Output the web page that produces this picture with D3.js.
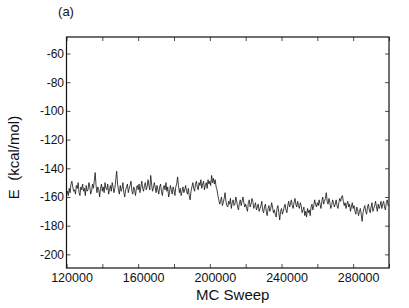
<!DOCTYPE html>
<html>
<head>
<meta charset="utf-8">
<script src="https://cdn.jsdelivr.net/npm/d3@7"></script>
<style>
  body { margin: 0; background: #fff; }
  svg text { font-family: "Liberation Sans", Arial, Helvetica, sans-serif; fill: #111; }
</style>
</head>
<body>
<svg id="chart"></svg>
<script>
// MC sweeps start at 120000, one reading every 500 sweeps
const sweepStart = 120000;
const sweepStep = 500;
const energy = [
  -158, -156, -159, -154, -157, -151, -149, -153, -156, -155, -158, -152, -154, -150, -157, -159, -153, -155, -151, -156,
  -154, -159, -152, -156, -155, -150, -153, -158, -156, -151, -154, -149, -143, -152, -157, -153, -155, -160, -154, -151,
  -156, -153, -157, -150, -154, -155, -151, -158, -155, -152, -156, -150, -153, -157, -154, -148, -142, -151, -155, -158,
  -152, -156, -154, -150, -157, -160, -155, -153, -151, -157, -154, -152, -149, -156, -158, -153, -155, -159, -154, -152,
  -155, -151, -157, -153, -149, -154, -156, -152, -150, -155, -153, -148, -152, -155, -145, -151, -156, -154, -150, -153,
  -157, -152, -155, -158, -153, -151, -156, -159, -154, -152, -155, -150, -156, -153, -160, -157, -152, -155, -158, -153,
  -155, -159, -153, -151, -146, -152, -157, -154, -159, -156, -153, -157, -155, -152, -156, -158, -154, -159, -162, -156,
  -153, -150, -154, -156, -151, -149, -153, -155, -150, -152, -148, -154, -151, -149, -155, -152, -150, -154, -148, -151,
  -149, -152, -145, -150, -147, -151, -148, -153, -155, -159, -162, -165, -163, -160, -166, -164, -161, -157, -163, -166,
  -167, -163, -165, -161, -168, -164, -162, -166, -165, -160, -163, -167, -169, -164, -162, -166, -163, -160, -164, -167,
  -165, -168, -170, -164, -162, -167, -165, -161, -163, -168, -166, -164, -169, -167, -165, -170, -168, -166, -163, -169,
  -171, -167, -165, -170, -173, -168, -166, -170, -168, -164, -167, -171, -169, -172, -174, -168, -166, -171, -176, -170,
  -168, -172, -170, -167, -165, -169, -171, -166, -163, -167, -165, -162, -166, -168, -164, -161, -165, -167, -163, -166,
  -168, -164, -166, -171, -169, -167, -173, -170, -174, -168, -171, -169, -173, -167, -165, -169, -166, -162, -165, -167,
  -164, -166, -162, -165, -168, -163, -160, -165, -163, -161, -157, -163, -165, -161, -164, -168, -166, -162, -164, -167,
  -165, -162, -166, -168, -164, -161, -163, -160, -159, -163, -166, -164, -168, -165, -163, -167, -165, -170, -167, -164,
  -168, -166, -170, -172, -167, -169, -173, -170, -168, -172, -177, -171, -168, -166, -170, -172, -167, -165, -169, -171,
  -167, -164, -170, -168, -166, -163, -167, -170, -165, -168, -166, -163, -168, -165, -163, -167, -169, -164, -162, -166,
  -166
];
const xTicks = [120000, 140000, 160000, 180000, 200000, 220000, 240000, 260000, 280000, 300000];
const xTickLabels = [120000, 160000, 200000, 240000, 280000];
const yTicks = [-60, -80, -100, -120, -140, -160, -180, -200];

const W = 409, H = 308;
const margin = {top: 37, right: 20, bottom: 40, left: 66.5};
const width = W - margin.left - margin.right,
      height = H - margin.top - margin.bottom;

const svg = d3.select("#chart").attr("width", W).attr("height", H);
const g = svg.append("g").attr("transform", "translate(" + margin.left + "," + margin.top + ")");

const x = d3.scaleLinear().domain([120000, 300000]).range([0, width]);
const y = d3.scaleLinear().domain([-209.5, -48.5]).range([height, 0]);

const data = energy.map((e, i) => ({sweep: sweepStart + i * sweepStep, e: e}));

// trace
g.append("path")
  .datum(data)
  .attr("fill", "none")
  .attr("stroke", "#111")
  .attr("stroke-width", 0.8)
  .attr("d", d3.line().x(d => x(d.sweep)).y(d => y(d.e)));

// axes, ticks point inward
const tickLen = 4;
const fmt = d => xTickLabels.includes(d) ? d : "";

const xb = g.append("g").attr("transform", "translate(0," + height + ")")
  .call(d3.axisBottom(x).tickValues(xTicks).tickSize(-tickLen).tickFormat(fmt).tickPadding(5.5));
xb.selectAll("text").attr("font-size", 12.5).attr("dx", 5);

g.append("g")
  .call(d3.axisTop(x).tickValues(xTicks).tickSize(-tickLen).tickFormat(""));

const yl = g.append("g")
  .call(d3.axisLeft(y).tickValues(yTicks).tickSize(-tickLen).tickFormat(d => d));
yl.selectAll("text").attr("font-size", 12).attr("x", -2.5);

g.append("g").attr("transform", "translate(" + width + ",0)")
  .call(d3.axisRight(y).tickValues(yTicks).tickSize(-tickLen).tickFormat(""));

g.selectAll(".domain").remove();
g.selectAll(".tick line").attr("stroke", "#222").attr("stroke-width", 0.8);

// frame
g.append("rect")
  .attr("width", width).attr("height", height)
  .attr("fill", "none").attr("stroke", "#111").attr("stroke-width", 1.2);

// titles
svg.append("text")
  .attr("x", margin.left + width / 2 + 5)
  .attr("y", 300)
  .attr("text-anchor", "middle")
  .attr("font-size", 15)
  .text("MC Sweep");

svg.append("text")
  .attr("transform", "translate(19," + (margin.top + height / 2 + 5) + ") rotate(-90)")
  .attr("text-anchor", "middle")
  .attr("font-size", 15)
  .attr("xml:space", "preserve")
  .text("E  (kcal/mol)");

svg.append("text")
  .attr("x", 66)
  .attr("y", 16)
  .attr("text-anchor", "middle")
  .attr("font-size", 13)
  .text("(a)");
</script>
</body>
</html>
